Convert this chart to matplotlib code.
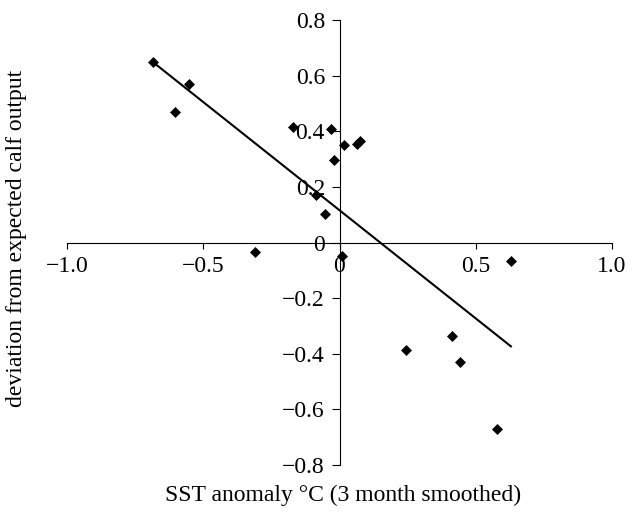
#!/usr/bin/env python3
# Calf output deviation vs SST anomaly, with fitted regression line.

import matplotlib
matplotlib.use("Agg")
import matplotlib.pyplot as plt
import numpy as np

# --- Data ---
sst_anomaly = [-0.685, -0.554, -0.603, -0.169, -0.032, 0.015, 0.064, 0.075,
               -0.022, -0.086, -0.055, -0.309, 0.009, 0.629, 0.245, 0.413,
               0.441, 0.578]
calf_deviation = [0.649, 0.571, 0.469, 0.415, 0.409, 0.349, 0.355, 0.365,
                  0.297, 0.169, 0.103, -0.035, -0.047, -0.065, -0.388, -0.335,
                  -0.431, -0.670]

# regression line (slope, intercept) as drawn
fit_slope = -0.778
fit_intercept = 0.116

x_ticks = [-1.0, -0.5, 0.0, 0.5, 1.0]
x_ticklabels = ["\u22121.0", "\u22120.5", "0", "0.5", "1.0"]
y_ticks = [-0.8, -0.6, -0.4, -0.2, 0.0, 0.2, 0.4, 0.6, 0.8]
y_ticklabels = ["\u22120.8", "\u22120.6", "\u22120.4", "\u22120.2", "0",
                "0.2", "0.4", "0.6", "0.8"]

FS = 17

plt.rcParams.update({
    "font.family": ["Liberation Serif", "DejaVu Serif"],
    "font.size": FS,
    "axes.linewidth": 0.8,
})

fig = plt.figure(figsize=(6.35, 5.15), dpi=100)
ax = fig.add_axes([67 / 635, 1 - 465 / 515, 545 / 635, 445 / 515])

ax.plot(sst_anomaly, calf_deviation, linestyle="none", marker="D",
        markersize=4.8, color="black", markeredgewidth=0.5, zorder=3)

xs = np.array([min(sst_anomaly), max(sst_anomaly)])
ax.plot(xs, fit_slope * xs + fit_intercept, color="black", linewidth=1.5,
        zorder=2)

ax.set_xlim(-1.0, 1.0)
ax.set_ylim(-0.8, 0.8)

# axes cross at the origin
ax.spines["left"].set_position(("data", 0))
ax.spines["bottom"].set_position(("data", 0))
ax.spines["top"].set_visible(False)
ax.spines["right"].set_visible(False)

ax.set_xticks(x_ticks)
ax.set_xticklabels(x_ticklabels)
ax.set_yticks(y_ticks)
ax.set_yticklabels(y_ticklabels)
ax.tick_params(axis="x", direction="out", length=4, width=0.8, pad=6)
ax.tick_params(axis="y", direction="out", length=5.5, width=0.8, pad=5)

fig.text(343 / 635, 1 - 495 / 515, "SST anomaly \u00b0C (3 month smoothed)",
         ha="center", va="center", fontsize=FS)
fig.text(17 / 635, 1 - 238 / 515, "deviation from expected calf output",
         ha="center", va="center", rotation=90, fontsize=FS)

fig.savefig("out.png", dpi=100)
plt.close(fig)
